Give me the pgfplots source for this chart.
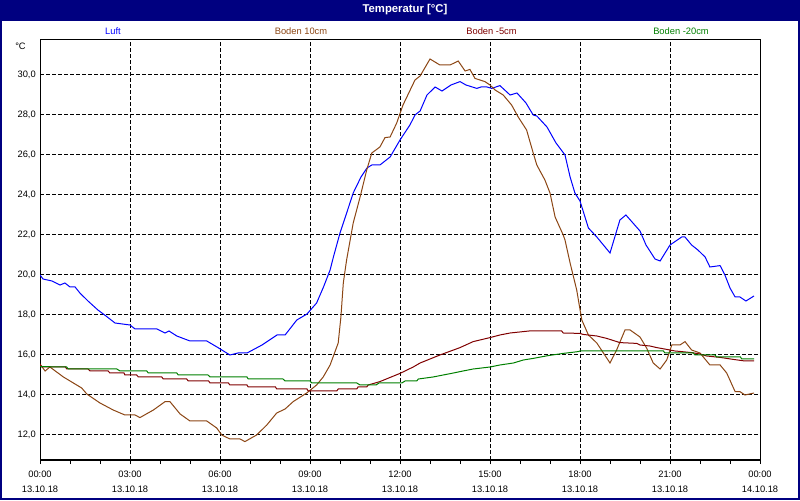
\documentclass[border=0pt]{standalone}
\usepackage{fontspec}
\setmainfont{Liberation Sans}
\usepackage{pgfplots}
\pgfplotsset{compat=1.18}
\definecolor{wnavy}{RGB}{0,0,128}
\definecolor{luft}{RGB}{0,0,255}
\definecolor{b10}{RGB}{140,70,20}
\definecolor{b5}{RGB}{128,0,0}
\definecolor{b20}{RGB}{0,128,0}

\begin{document}
\begin{tikzpicture}[x=0.75pt,y=0.75pt]
% frame: 800 x 500 px, 1px = 0.75pt
\useasboundingbox (0,0) rectangle (800,500);
\fill[white] (0,0) rectangle (800,500);
\fill[wnavy] (0,479) rectangle (800,500);
\draw[wnavy, line width=1.5pt] (1,1) rectangle (799,499);
\node[white, font=\fontsize{8.5}{10}\selectfont\bfseries] at (405,490) {Temperatur [°C]};

% series names
\node[luft, font=\fontsize{7}{8}\selectfont] at (113,469) {Luft};
\node[b10, font=\fontsize{7}{8}\selectfont] at (301,469) {Boden 10cm};
\node[b5, font=\fontsize{7}{8}\selectfont] at (491.5,469) {Boden -5cm};
\node[b20, font=\fontsize{7}{8}\selectfont] at (681,469) {Boden -20cm};
\node[anchor=east, inner sep=0pt, font=\fontsize{7}{8}\selectfont] at (26,454) {°C};

\begin{axis}[
    at={(30pt,30pt)}, anchor=south west,
    scale only axis,
    width=540pt, height=315pt,
    xmin=0, xmax=24,
    ymin=10.75, ymax=31.75,
    axis line style={black, line width=0.75pt},
    xtick={0,3,...,24},
    minor xtick={1,2,...,23},
    xticklabels={{00:00\\13.10.18},{03:00\\13.10.18},{06:00\\13.10.18},{09:00\\13.10.18},{12:00\\13.10.18},{15:00\\13.10.18},{18:00\\13.10.18},{21:00\\13.10.18},{00:00\\14.10.18}},
    ytick={12,14,...,30},
    yticklabels={{12,0},{14,0},{16,0},{18,0},{20,0},{22,0},{24,0},{26,0},{28,0},{30,0}},
    xmajorgrids, ymajorgrids,
    major grid style={black, line width=0.75pt, dash pattern=on 3pt off 1.5pt},
    xtick pos=left,
    tick align=outside,
    major tick length=3pt, minor tick length=3pt,
    tick style={black, line width=0.75pt},
    ytick style={draw=none},
    xticklabel style={font=\fontsize{7}{11.25}\selectfont, align=center, inner sep=0pt, yshift=-5pt},
    yticklabel style={font=\fontsize{7}{8}\selectfont, inner sep=0pt},
    every axis plot/.append style={line width=0.75pt, mark=none},
]
% Luft
\addplot[luft] coordinates {
(0,20.0) (0.1,19.8) (0.4,19.7) (0.67,19.5) (0.83,19.6) (1.0,19.4) (1.17,19.4)
(1.33,19.1) (1.6,18.7) (1.93,18.25) (2.2,17.95) (2.5,17.6) (2.75,17.55) (3.0,17.5)
(3.17,17.3) (3.9,17.3) (4.17,17.1) (4.3,17.2) (4.56,16.95) (5.0,16.7) (5.56,16.7)
(5.9,16.4) (6.33,16.0) (6.6,16.1) (6.9,16.1) (7.4,16.5) (7.9,17.0) (8.17,17.0)
(8.56,17.75) (8.9,18.05) (9.22,18.6) (9.45,19.4) (9.67,20.25) (9.78,20.9) (10.0,22.1)
(10.2,23.0) (10.44,24.1) (10.7,24.9) (10.9,25.35) (11.06,25.5) (11.33,25.5) (11.67,25.9)
(12.0,26.75) (12.33,27.5) (12.5,28.0) (12.67,28.2) (12.9,29.0) (13.17,29.4) (13.4,29.2)
(13.7,29.5) (14.0,29.67) (14.2,29.5) (14.56,29.33) (14.7,29.4) (14.9,29.4) (15.06,29.33)
(15.33,29.47) (15.67,29.0) (15.9,29.1) (16.2,28.6) (16.44,28.0) (16.56,27.95) (16.9,27.4)
(17.2,26.6) (17.5,26.0) (17.67,24.9) (17.83,24.1) (18.0,23.7) (18.28,22.35) (18.56,21.9)
(18.67,21.7) (19.0,21.1) (19.33,22.75) (19.53,23.0) (20.0,22.2) (20.2,21.5) (20.5,20.8)
(20.67,20.7) (21.0,21.5) (21.39,21.9) (21.5,21.9) (21.72,21.5) (21.93,21.25) (22.17,20.9)
(22.33,20.4) (22.67,20.47) (22.83,20.0) (23.0,19.35) (23.17,18.9) (23.33,18.9)
(23.53,18.7) (23.8,18.95)
};
% Boden 10cm
\addplot[b10] coordinates {
(0,15.55) (0.17,15.2) (0.33,15.4) (0.78,14.9) (1.39,14.35) (1.56,14.05) (2.0,13.6)
(2.44,13.25) (2.83,13.0) (3.17,13.0) (3.33,12.87) (3.78,13.25) (4.17,13.67) (4.33,13.67)
(4.67,13.05) (5.0,12.7) (5.56,12.7) (5.89,12.35) (6.06,12.0) (6.33,11.8) (6.67,11.8)
(6.83,11.67) (7.22,12.0) (7.56,12.5) (7.89,13.1) (8.17,13.3) (8.44,13.67) (8.89,14.1)
(9.22,14.5) (9.44,14.9) (9.67,15.5) (9.94,16.6) (10.03,17.9) (10.11,19.6) (10.22,20.75)
(10.44,22.6) (10.67,23.9) (10.89,25.25) (11.06,26.1) (11.33,26.4) (11.5,26.87) (11.67,26.9)
(11.89,27.6) (12.1,28.5) (12.5,29.75) (12.67,29.95) (13.0,30.8) (13.33,30.5) (13.67,30.5)
(13.94,30.7) (14.17,30.2) (14.33,30.28) (14.5,29.83) (14.83,29.67) (15.0,29.5) (15.17,29.25)
(15.44,29.0) (15.72,28.5) (15.94,27.9) (16.22,27.25) (16.44,26.1) (16.56,25.5) (16.83,24.75)
(17.0,24.1) (17.17,22.9) (17.44,22.0) (17.5,21.75) (17.67,20.6) (17.89,19.25) (18.06,17.75)
(18.28,17.0) (18.56,16.6) (18.78,16.1) (19.0,15.6) (19.22,16.25) (19.5,17.25) (19.67,17.25)
(20.0,16.9) (20.22,16.35) (20.44,15.6) (20.67,15.3) (20.89,15.75) (21.06,16.5) (21.33,16.5)
(21.5,16.67) (21.72,16.25) (22.0,16.1) (22.33,15.5) (22.67,15.5) (22.89,15.1) (23.17,14.17)
(23.33,14.17) (23.5,14.0) (23.8,14.1)
};
% Boden -5cm
\addplot[b5] coordinates {
(0,15.55) (0.05,15.4) (0.85,15.4) (0.89,15.3) (1.6,15.3) (1.67,15.2) (2.27,15.2) (2.33,15.1)
(2.8,15.1) (2.83,15.0) (3.22,15.0) (3.28,14.9) (4.06,14.9) (4.11,14.8) (4.89,14.8) (4.94,14.7)
(5.62,14.7) (5.67,14.6) (6.28,14.6) (6.33,14.5) (6.9,14.5) (6.94,14.4) (7.85,14.4) (7.89,14.3)
(8.9,14.3) (8.94,14.2) (9.89,14.2) (9.94,14.3) (10.56,14.3) (10.6,14.4) (10.89,14.4)
(10.94,14.5) (11.33,14.67) (12.0,15.08) (12.44,15.4) (12.67,15.6) (13.33,16.0) (14.0,16.37)
(14.44,16.67) (15.0,16.87) (15.33,17.0) (15.67,17.1) (16.3,17.2) (17.39,17.2) (17.44,17.1)
(18.0,17.08) (18.1,17.03) (18.56,16.95) (18.89,16.83) (19.33,16.62) (19.89,16.58) (20.0,16.5)
(20.33,16.45) (20.56,16.37) (20.89,16.28) (21.17,16.2) (21.39,16.17) (21.72,16.12) (22.0,16.05)
(22.22,15.95) (22.67,15.88) (23.11,15.78) (23.5,15.7) (23.8,15.7)
};
% Boden -20cm
\addplot[b20] coordinates {
(0,15.42) (0.89,15.4) (0.94,15.3) (2.56,15.3) (2.67,15.2) (3.56,15.2) (3.61,15.1) (4.56,15.1)
(4.61,15.0) (5.6,15.0) (5.67,14.9) (6.9,14.9) (6.94,14.8) (8.1,14.8) (8.17,14.7) (9.0,14.7)
(9.06,14.6) (10.56,14.6) (10.67,14.5) (11.2,14.5) (11.3,14.6) (12.06,14.6) (12.17,14.7)
(12.56,14.7) (12.61,14.8) (13.1,14.9) (13.44,15.0) (13.78,15.1) (14.1,15.2) (14.44,15.3)
(15.0,15.4) (15.33,15.5) (15.78,15.6) (16.11,15.75) (16.44,15.83) (16.94,15.97) (17.44,16.08)
(17.94,16.17) (18.0,16.2) (20.78,16.2) (20.83,16.1) (21.78,16.1) (21.83,16.0) (22.5,16.0)
(22.55,15.9) (23.35,15.9) (23.39,15.8) (23.8,15.8)
};
\end{axis}
\end{tikzpicture}
\end{document}
